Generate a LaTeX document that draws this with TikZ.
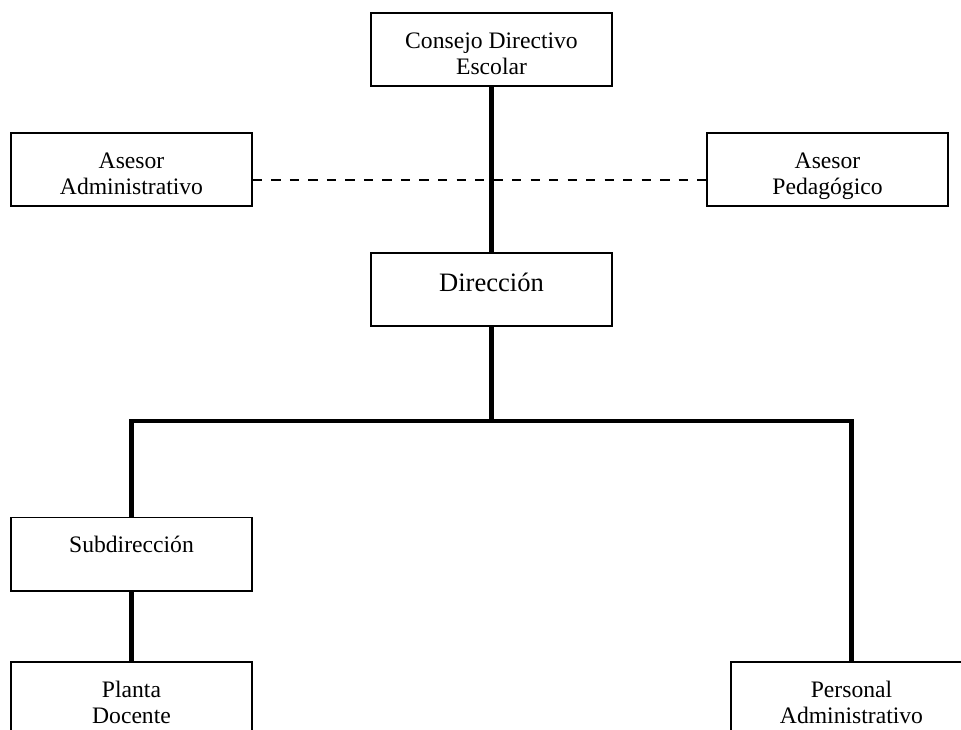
\documentclass[tikz,border=0pt]{standalone}
\usepackage{fontspec}
\setmainfont{Liberation Serif}
\usetikzlibrary{positioning}
\tikzset{
  box/.style={draw,line width=1pt,minimum width=122.4pt,minimum height=37.1pt,inner sep=0pt},
  txt/.style={anchor=north,align=center,inner sep=0pt,font=\fontsize{12}{13.2}\selectfont},
  ln/.style={line width=2.2pt,line join=miter},
  dsh/.style={line width=1pt,dash pattern=on 4.8pt off 4.6pt}
}
\begin{document}
\begin{tikzpicture}[x=0.508pt,y=-0.508pt]
\fill[white] (0,0) rectangle (961,729);
\clip (0,0) rectangle (961,729);
% boxes
\node[box] (cde) at (491.5,49.5) {};
\node[box] (aadm) at (131.5,169.5) {};
\node[box] (aped) at (827.5,169.5) {};
\node[box] (dir) at (491.5,289.5) {};
\node[box] (sub) at (131.5,554) {};
\node[box] (pla) at (131.5,698.5) {};
\node[box] (per) at (851.5,698.5) {};
% texts
\node[txt,below=10.4pt of cde.north] (cdet) {Consejo Directivo\\Escolar};
\node[txt,below=10.2pt of aadm.north] (aadmt) {Asesor\\Administrativo};
\node[txt,below=10.2pt of aped.north] (apedt) {Asesor\\Pedagógico};
\node[txt,font=\fontsize{13.5}{16}\selectfont,below=10.4pt of dir.north] (dirt) {Dirección};
\node[txt,below=9.6pt of sub.north] (subt) {Subdirección};
\node[txt,below=10pt of pla.north] (plat) {Planta\\Docente};
\node[txt,below=10pt of per.north] (pert) {Personal\\Administrativo};
% connectors
\coordinate (jn) at (491.5,421);
\coordinate (dl) at (0,180);
\draw[dsh] (aadm.east |- dl) -- (aped.west |- dl);
\draw[ln] (cde) -- (dir);
\draw[ln] (dir) -- (jn);
\draw[ln] (sub.north) |- (jn) -| (per.north);
\draw[ln] (sub) -- (pla);
\end{tikzpicture}
\end{document}
